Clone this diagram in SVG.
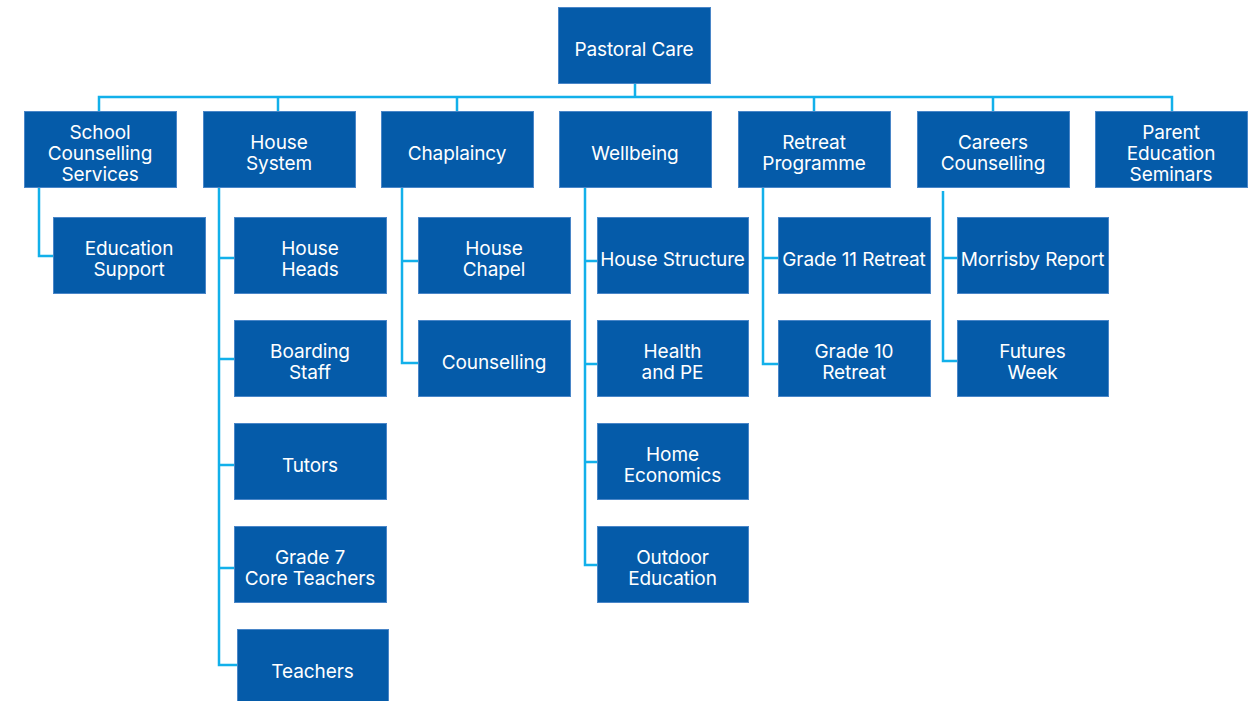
<svg xmlns="http://www.w3.org/2000/svg" width="1258" height="701" viewBox="0 0 1258 701">
<style>
.box{fill:#055BA9;stroke:#4A86C8;stroke-width:1}
.lbl{fill:#ffffff;font-family:Inter,"Liberation Sans",sans-serif;font-size:19px;letter-spacing:-0.1px;text-anchor:middle}
.con{fill:none;stroke:#12B0EA;stroke-width:2.5}
</style>
<rect width="1258" height="701" fill="#ffffff"/>
<g id="connectors" class="con">
<path d="M635,83 V97 M99,111 V97 H1172 V111 M278,97 V111 M457,97 V111 M814,97 V111 M993,97 V111"/>
<path d="M39,187 V256 H53"/>
<path d="M219,187 V665 H237 M219,258 H234 M219,359 H234 M219,465 H234 M219,568 H234"/>
<path d="M402,187 V363 H418 M402,261 H418"/>
<path d="M585,187 V565 H597 M585,261 H597 M585,364 H597 M585,462 H597"/>
<path d="M763,187 V364 H778 M763,258 H778"/>
<path d="M943,191 V361 H957 M943,258 H957"/>
</g>
<g id="pastoral-care"><rect class="box" x="558.5" y="7.5" width="152" height="76"/><text class="lbl" x="634" y="56">Pastoral Care</text></g>
<g id="school-counselling"><rect class="box" x="24.5" y="111.5" width="152" height="76"/><text class="lbl"><tspan x="100" y="138.5">School</tspan><tspan x="100" y="159.5">Counselling</tspan><tspan x="100" y="180.5">Services</tspan></text></g>
<g id="house-system"><rect class="box" x="203.5" y="111.5" width="152" height="76"/><text class="lbl"><tspan x="279" y="149">House</tspan><tspan x="279" y="170">System</tspan></text></g>
<g id="chaplaincy"><rect class="box" x="381.5" y="111.5" width="152" height="76"/><text class="lbl" x="457" y="159.5">Chaplaincy</text></g>
<g id="wellbeing"><rect class="box" x="559.5" y="111.5" width="152" height="76"/><text class="lbl" x="635" y="159.5">Wellbeing</text></g>
<g id="retreat-programme"><rect class="box" x="738.5" y="111.5" width="152" height="76"/><text class="lbl"><tspan x="814" y="149">Retreat</tspan><tspan x="814" y="170">Programme</tspan></text></g>
<g id="careers-counselling"><rect class="box" x="917.5" y="111.5" width="152" height="76"/><text class="lbl"><tspan x="993" y="149">Careers</tspan><tspan x="993" y="170">Counselling</tspan></text></g>
<g id="parent-education"><rect class="box" x="1095.5" y="111.5" width="152" height="76"/><text class="lbl"><tspan x="1171" y="138.5">Parent</tspan><tspan x="1171" y="159.5">Education</tspan><tspan x="1171" y="180.5">Seminars</tspan></text></g>
<g id="education-support"><rect class="box" x="53.5" y="217.5" width="152" height="76"/><text class="lbl"><tspan x="129" y="255">Education</tspan><tspan x="129" y="276">Support</tspan></text></g>
<g id="house-heads"><rect class="box" x="234.5" y="217.5" width="152" height="76"/><text class="lbl"><tspan x="310" y="255">House</tspan><tspan x="310" y="276">Heads</tspan></text></g>
<g id="boarding-staff"><rect class="box" x="234.5" y="320.5" width="152" height="76"/><text class="lbl"><tspan x="310" y="358">Boarding</tspan><tspan x="310" y="379">Staff</tspan></text></g>
<g id="tutors"><rect class="box" x="234.5" y="423.5" width="152" height="76"/><text class="lbl" x="310" y="472">Tutors</text></g>
<g id="grade7-core"><rect class="box" x="234.5" y="526.5" width="152" height="76"/><text class="lbl"><tspan x="310" y="564">Grade 7</tspan><tspan x="310" y="585">Core Teachers</tspan></text></g>
<g id="teachers"><rect class="box" x="237.5" y="629.5" width="151" height="76"/><text class="lbl" x="312.5" y="678">Teachers</text></g>
<g id="house-chapel"><rect class="box" x="418.5" y="217.5" width="152" height="76"/><text class="lbl"><tspan x="494" y="255">House</tspan><tspan x="494" y="276">Chapel</tspan></text></g>
<g id="counselling"><rect class="box" x="418.5" y="320.5" width="152" height="76"/><text class="lbl" x="494" y="369">Counselling</text></g>
<g id="house-structure"><rect class="box" x="597.5" y="217.5" width="151" height="76"/><text class="lbl" x="672.5" y="266">House Structure</text></g>
<g id="health-pe"><rect class="box" x="597.5" y="320.5" width="151" height="76"/><text class="lbl"><tspan x="672.5" y="358">Health</tspan><tspan x="672.5" y="379">and PE</tspan></text></g>
<g id="home-economics"><rect class="box" x="597.5" y="423.5" width="151" height="76"/><text class="lbl"><tspan x="672.5" y="461">Home</tspan><tspan x="672.5" y="482">Economics</tspan></text></g>
<g id="outdoor-education"><rect class="box" x="597.5" y="526.5" width="151" height="76"/><text class="lbl"><tspan x="672.5" y="564">Outdoor</tspan><tspan x="672.5" y="585">Education</tspan></text></g>
<g id="grade11-retreat"><rect class="box" x="778.5" y="217.5" width="152" height="76"/><text class="lbl" x="854" y="266">Grade 11 Retreat</text></g>
<g id="grade10-retreat"><rect class="box" x="778.5" y="320.5" width="152" height="76"/><text class="lbl"><tspan x="854" y="358">Grade 10</tspan><tspan x="854" y="379">Retreat</tspan></text></g>
<g id="morrisby-report"><rect class="box" x="957.5" y="217.5" width="151" height="76"/><text class="lbl" x="1032.5" y="266">Morrisby Report</text></g>
<g id="futures-week"><rect class="box" x="957.5" y="320.5" width="151" height="76"/><text class="lbl"><tspan x="1032.5" y="358">Futures</tspan><tspan x="1032.5" y="379">Week</tspan></text></g>
</svg>
